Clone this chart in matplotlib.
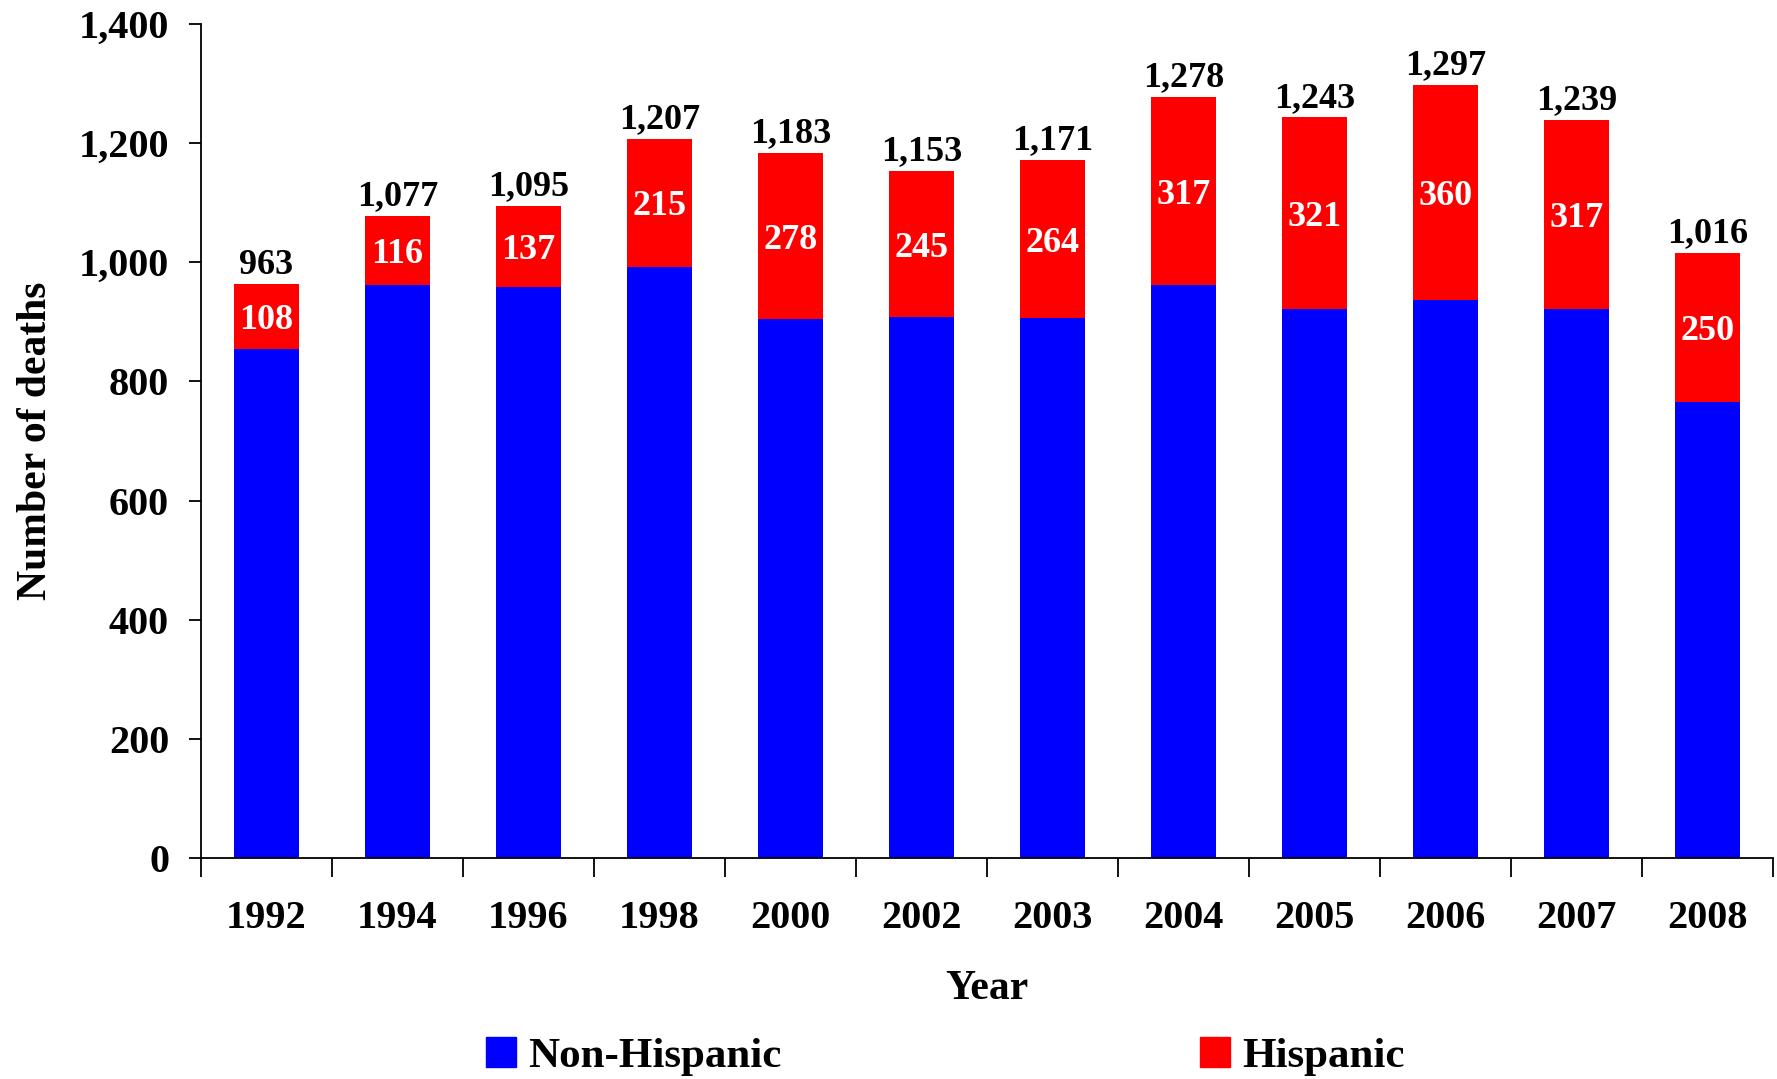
import numpy as np
import matplotlib
matplotlib.use("Agg")
import matplotlib.pyplot as plt
from matplotlib.patches import Patch
from matplotlib.ticker import FuncFormatter, FixedLocator

years = ["1992", "1994", "1996", "1998", "2000", "2002", "2003",
         "2004", "2005", "2006", "2007", "2008"]
totals = [963, 1077, 1095, 1207, 1183, 1153, 1171, 1278, 1243, 1297, 1239, 1016]
hispanic = [108, 116, 137, 215, 278, 245, 264, 317, 321, 360, 317, 250]
non_hispanic = [t - h for t, h in zip(totals, hispanic)]

plt.rcParams['font.family'] = ['Liberation Serif', 'DejaVu Serif']
plt.rcParams['font.weight'] = 'bold'

fig = plt.figure(figsize=(17.77, 10.79), dpi=100)
ax = fig.add_axes([0.1131, 0.2048, 0.9977 - 0.1131, 0.9778 - 0.2048])

x = np.arange(len(years))
w = 0.5
ax.bar(x, non_hispanic, w, color='#0000FF', label='Non-Hispanic')
ax.bar(x, hispanic, w, bottom=non_hispanic, color='#FF0000', label='Hispanic')

for xi, nh, h, t in zip(x, non_hispanic, hispanic, totals):
    ax.text(xi, nh + h / 2, f"{h:,}", ha='center', va='center_baseline',
            color='white', fontsize=26, fontweight='bold')
    ax.annotate(f"{t:,}", (xi, t), xytext=(0, 2), textcoords='offset points',
                ha='center', va='bottom', fontsize=26, fontweight='bold')

ax.set_xlim(-0.5, len(years) - 0.5)
ax.set_ylim(0, 1400)
ax.set_yticks(np.arange(0, 1401, 200))
ax.yaxis.set_major_formatter(FuncFormatter(lambda v, p: f"{int(v):,}"))
ax.set_xticks(x)
ax.set_xticklabels(years)
ax.xaxis.set_minor_locator(FixedLocator(np.arange(-0.5, len(years), 1.0)))

ax.tick_params(axis='x', which='major', length=0, pad=30, labelsize=29)
ax.tick_params(axis='x', which='minor', length=14, width=1.3, direction='out')
ax.tick_params(axis='y', length=9, width=1.3, direction='out', pad=14, labelsize=29)

for s in ['top', 'right']:
    ax.spines[s].set_visible(False)
for s in ['left', 'bottom']:
    ax.spines[s].set_linewidth(1.3)

fig.text(36 / 1777, 0.591, "Number of deaths", rotation=90, ha='center',
         va='center', fontsize=30, fontweight='bold')
fig.text(0.5555, 0.083, "Year", ha='center', va='center',
         fontsize=30, fontweight='bold')

handles = [Patch(color='#0000FF', label='Non-Hispanic'),
           Patch(color='#FF0000', label='Hispanic')]
fig.legend(handles=handles, loc='center', bbox_to_anchor=(0.532, 0.021),
           ncol=2, frameon=False, fontsize=31, handlelength=0.7,
           handleheight=0.7, handletextpad=0.3, columnspacing=9.7,
           borderaxespad=0, borderpad=0)

fig.savefig("out.png", dpi=100)
